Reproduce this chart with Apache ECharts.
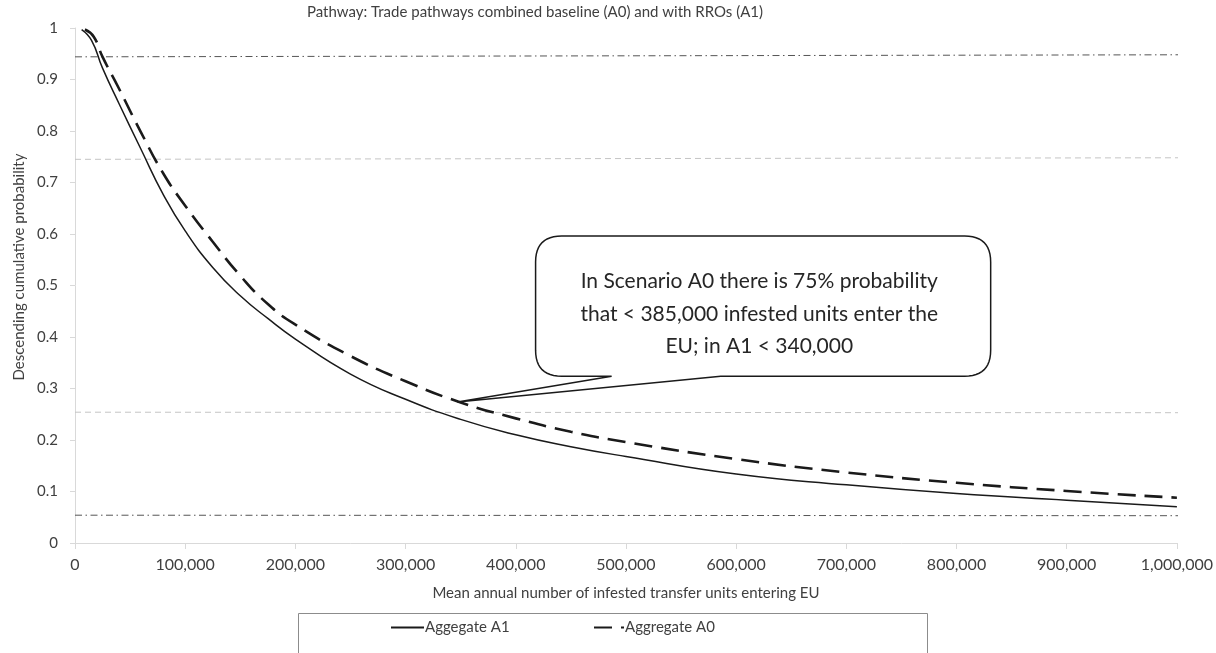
<!DOCTYPE html>
<html><head><meta charset="utf-8">
<script src="https://cdn.jsdelivr.net/npm/echarts@6/dist/echarts.min.js"></script>
<style>html,body{margin:0;padding:0;background:#fff}#c{width:1216px;height:653px}</style>
</head><body><div id="c"></div>
<script>
const titleText = 'Pathway: Trade pathways combined baseline (A0) and with RROs (A1)';
const xAxisName = 'Mean annual number of infested transfer units entering EU';
const yAxisName = 'Descending cumulative probability';
const seriesNames = ['Aggegate A1', 'Aggregate A0'];

// Aggregate A1 (solid)
const a1X = [6000, 15000, 25000, 40000, 60000, 80000, 100000, 125000, 150000, 175000, 200000, 250000, 300000, 350000, 400000, 450000, 500000, 600000, 700000, 800000, 900000, 1000000];
const a1Y = [0.997, 0.976, 0.922, 0.853, 0.764, 0.677, 0.606, 0.535, 0.480, 0.436, 0.396, 0.328, 0.279, 0.240, 0.210, 0.187, 0.168, 0.134, 0.113, 0.096, 0.083, 0.0705];
// Aggregate A0 (dashed)
const a0X = [9000, 17000, 25000, 40000, 60000, 80000, 100000, 125000, 150000, 175000, 200000, 250000, 300000, 350000, 400000, 450000, 500000, 600000, 700000, 800000, 900000, 1000000];
const a0Y = [0.997, 0.983, 0.944, 0.882, 0.797, 0.718, 0.655, 0.585, 0.519, 0.464, 0.424, 0.363, 0.314, 0.273, 0.242, 0.216, 0.196, 0.163, 0.137, 0.117, 0.101, 0.088];

// horizontal reference lines (start, end)
const refLineX = [0, 1002000];
const refUpperDashDot = [0.944, 0.948];
const refUpperDashed = [0.745, 0.748];
const refLowerDashed = [0.254, 0.253];
const refLowerDashDot = [0.054, 0.053];

// callout annotation (data coordinates)
const calloutLines = ['In Scenario A0 there is 75% probability', 'that < 385,000 infested units enter the', 'EU; in A1 < 340,000'];
const calloutTip = [347000, 0.274];
const calloutBoxX = [418000, 831000];
const calloutBoxY = [0.596, 0.324];
const calloutBaseX = [487000, 586000];
const calloutTextAt = [621000, 0.445];

const FONT = 'Lato';
const TXT = '#404040';
const AX = '#d9d9d9';
const FS = 15;

function pairs(xs, ys) { return xs.map((x, i) => [x, ys[i]]); }

const chart = echarts.init(document.getElementById('c'), null, { renderer: 'canvas' });

function refSeries(vals, color, type) {
  return {
    type: 'line', data: pairs(refLineX, vals), symbol: 'none', silent: true, z: 1,
    lineStyle: { color: color, width: 1, type: type }
  };
}

const legendCommon = {
  top: 615, itemHeight: 14, itemGap: 0,
  itemStyle: { opacity: 0 },
  textStyle: { color: TXT, fontFamily: FONT, fontSize: FS, padding: [0, 0, 0, -4] }
};

chart.setOption({
  animation: false,
  backgroundColor: '#fff',
  title: {
    text: titleText, left: 535, textAlign: 'center', top: 5, padding: 0,
    textStyle: { fontFamily: FONT, fontSize: FS, fontWeight: 'normal', color: TXT }
  },
  grid: { left: 75, right: 38, top: 28, bottom: 110, containLabel: false },
  xAxis: {
    type: 'value', min: 0, max: 1000000, interval: 100000,
    axisLine: { show: true, lineStyle: { color: AX, width: 1 } },
    axisTick: { show: true, length: 6, lineStyle: { color: AX } },
    splitLine: { show: false },
    axisLabel: { color: TXT, fontFamily: FONT, fontSize: 16, margin: 14 },
    name: xAxisName, nameLocation: 'middle', nameGap: 43,
    nameTextStyle: { color: TXT, fontFamily: FONT, fontSize: FS }
  },
  yAxis: {
    type: 'value', min: 0, max: 1, interval: 0.1,
    axisLine: { show: true, lineStyle: { color: AX, width: 1 } },
    axisTick: { show: true, length: 5, lineStyle: { color: AX } },
    splitLine: { show: false },
    axisLabel: { color: TXT, fontFamily: FONT, fontSize: FS, margin: 17 }
  },
  legend: [
    Object.assign({ data: [seriesNames[0]], left: 385, itemWidth: 33 }, legendCommon),
    Object.assign({ data: [seriesNames[1]], left: 588, itemWidth: 30 }, legendCommon)
  ],
  series: [
    refSeries(refUpperDashDot, '#555555', [7, 3.5, 1.5, 3.5]),
    refSeries(refUpperDashed, '#c4c4c4', [6, 4]),
    refSeries(refLowerDashed, '#c4c4c4', [6, 4]),
    refSeries(refLowerDashDot, '#555555', [7, 3.5, 1.5, 3.5]),
    {
      name: seriesNames[0], type: 'line', data: pairs(a1X, a1Y), symbol: 'none',
      smooth: 0.5, z: 3,
      lineStyle: { color: '#1a1a1a', width: 1.5, type: 'solid' },
      itemStyle: { color: '#1a1a1a' }
    },
    {
      name: seriesNames[1], type: 'line', data: pairs(a0X, a0Y), symbol: 'none',
      smooth: 0.5, z: 3,
      lineStyle: { color: '#1a1a1a', width: 2.6, type: [18, 9] },
      itemStyle: { color: '#1a1a1a' }
    }
  ]
});

function px(p) { return chart.convertToPixel({ gridIndex: 0 }, p); }
const tl = px([calloutBoxX[0], calloutBoxY[0]]);
const br = px([calloutBoxX[1], calloutBoxY[1]]);
const tip = px(calloutTip);
const bl = px([calloutBaseX[0], calloutBoxY[1]]);
const brb = px([calloutBaseX[1], calloutBoxY[1]]);
const tc = px(calloutTextAt);
const L = tl[0], T = tl[1], R = br[0], B = br[1], r = 26;

function corner(p0, p1, p2, out) {
  const n = 12;
  for (let i = 1; i <= n; i++) {
    const t = i / n, u = 1 - t;
    out.push([u * u * p0[0] + 2 * u * t * p1[0] + t * t * p2[0], u * u * p0[1] + 2 * u * t * p1[1] + t * t * p2[1]]);
  }
}
const pts = [[L + r, T], [R - r, T]];
corner([R - r, T], [R, T], [R, T + r], pts);
pts.push([R, B - r]);
corner([R, B - r], [R, B], [R - r, B], pts);
pts.push([brb[0], B], [tip[0], tip[1]], [bl[0], B], [L + r, B]);
corner([L + r, B], [L, B], [L, B - r], pts);
pts.push([L, T + r]);
corner([L, T + r], [L, T], [L + r, T], pts);

chart.setOption({
  graphic: [
    { type: 'polygon', z: 100, shape: { points: pts },
      style: { fill: '#fff', stroke: '#1a1a1a', lineWidth: 1.5 } },
    { type: 'text', z: 101, x: tc[0], y: tc[1],
      style: { text: calloutLines.join('\n'), fill: '#262626', font: '21px Lato', lineHeight: 32.5,
               align: 'center', verticalAlign: 'middle' } },
    { type: 'text', z: 101, x: 19, y: 267, rotation: Math.PI / 2,
      style: { text: yAxisName, fill: TXT, font: FS + 'px Lato', align: 'center', verticalAlign: 'middle' } },
    { type: 'rect', z: 50, shape: { x: 298.5, y: 613.5, width: 629, height: 60 },
      style: { fill: 'none', stroke: '#8c8c8c', lineWidth: 1 } }
  ]
});
</script></body></html>
